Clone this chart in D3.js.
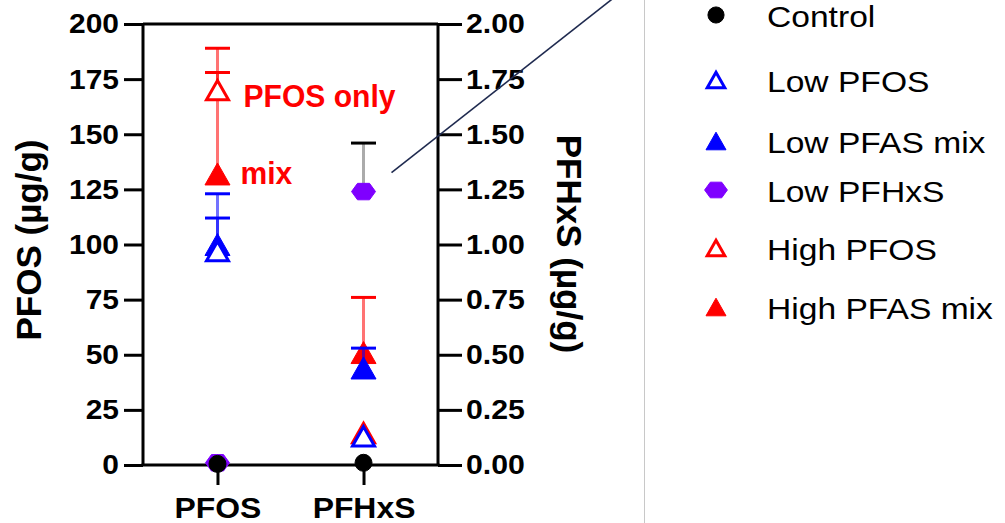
<!DOCTYPE html>
<html>
<head>
<meta charset="utf-8">
<script src="https://cdn.jsdelivr.net/npm/d3@7"></script>
<style>
  body { margin: 0; background: #fff; }
  svg { display: block; font-family: "Liberation Sans", Arial, sans-serif; }
</style>
</head>
<body>
<svg id="chart" width="1005" height="523"></svg>
<script>
// ---- data -------------------------------------------------------------
const categories = ["PFOS", "PFHxS"];
const seriesNames = ["Control", "Low PFOS", "Low PFAS mix", "Low PFHxS", "High PFOS", "High PFAS mix"];

// group means per category: [PFOS on left axis, PFHxS on right axis], µg/g
const controlMean   = [0.5, 0.01];
const lowPfosMean   = [97, 0.13];
const lowMixMean    = [100, 0.44];
const lowPfhxsMean  = [1, 1.24];
const highPfosMean  = [170, 0.145];
const highMixMean   = [132, 0.51];

// upper error (SD) per category; null where no bar is shown
const controlErr   = [null, null];
const lowPfosErr   = [15, null];
const lowMixErr    = [23, 0.09];
const lowPfhxsErr  = [null, 0.22];
const highPfosErr  = [19, null];
const highMixErr   = [46, 0.25];

const leftTicks  = [0, 25, 50, 75, 100, 125, 150, 175, 200];
const rightTicks = [0, 0.25, 0.5, 0.75, 1, 1.25, 1.5, 1.75, 2];

// ---- styles -----------------------------------------------------------
const BLUE = "#0000ff", RED = "#ff0000", PURPLE = "#7f00ff", BLACK = "#000000";
const seriesStyle = {
  "Control":       { shape: "circle",   color: BLACK,  fill: true,  errColor: BLACK },
  "Low PFOS":      { shape: "triangle", color: BLUE,   fill: false, errColor: BLUE },
  "Low PFAS mix":  { shape: "triangle", color: BLUE,   fill: true,  errColor: BLUE },
  "Low PFHxS":     { shape: "hexagon",  color: PURPLE, fill: true,  errColor: "#666666", capColor: BLACK },
  "High PFOS":     { shape: "triangle", color: RED,    fill: false, errColor: RED },
  "High PFAS mix": { shape: "triangle", color: RED,    fill: true,  errColor: RED }
};

const series = [
  { name: "Control",       mean: controlMean,  err: controlErr },
  { name: "Low PFOS",      mean: lowPfosMean,  err: lowPfosErr },
  { name: "Low PFAS mix",  mean: lowMixMean,   err: lowMixErr },
  { name: "Low PFHxS",     mean: lowPfhxsMean, err: lowPfhxsErr },
  { name: "High PFOS",     mean: highPfosMean, err: highPfosErr },
  { name: "High PFAS mix", mean: highMixMean,  err: highMixErr }
];
// painting order (later on top)
const drawOrder = ["High PFAS mix", "High PFOS", "Low PFHxS", "Low PFAS mix", "Low PFOS", "Control"];

// ---- layout -----------------------------------------------------------
const svg = d3.select("#chart");
const plot = { left: 143, right: 438, top: 24, bottom: 465 };

const x = d3.scalePoint().domain(categories).range([plot.left, plot.right]).padding(0.51);
const yLeft  = d3.scaleLinear().domain([0, 200]).range([plot.bottom, plot.top]);
const yRight = d3.scaleLinear().domain([0, 2]).range([plot.bottom, plot.top]);
const yFor = cat => (cat === "PFOS" ? yLeft : yRight);

const AXIS_W = 3;

// marker path generators (centred on 0,0)
function markerPath(shape, s) {
  if (shape === "triangle") {
    const w = 25 * s, h = 22 * s;
    return `M0,${-h / 2}L${w / 2},${h / 2}L${-w / 2},${h / 2}Z`;
  }
  if (shape === "hexagon") {
    const rx = 12 * s, ry = 9.5 * s;
    const pts = d3.range(6).map(i => {
      const a = Math.PI / 3 * i;
      return [rx * Math.cos(a), ry * Math.sin(a)];
    });
    return "M" + pts.join("L") + "Z";
  }
  const r = 8.5 * s;
  return `M${-r},0A${r},${r} 0 1,0 ${r},0A${r},${r} 0 1,0 ${-r},0Z`;
}

function drawMarker(g, st, cx, cy, s) {
  const open = !st.fill;
  g.append("path")
    .attr("transform", `translate(${cx},${cy})`)
    .attr("d", markerPath(st.shape, s * (open ? 0.88 : 1)))
    .attr("fill", open ? "#fff" : st.color)
    .attr("stroke", st.color)
    .attr("stroke-width", open ? 3 : 1)
    .attr("stroke-linejoin", "miter");
}

// helper for horizontally stretched text
function label(g, txt, px, py, opts) {
  const t = g.append("text")
    .attr("transform", `translate(${px},${py}) ${opts.rotate ? `rotate(${opts.rotate})` : ""} scale(${opts.sx || 1},1)`)
    .attr("font-size", opts.size)
    .attr("font-weight", opts.bold ? "bold" : "normal")
    .attr("text-anchor", opts.anchor || "start")
    .attr("fill", opts.color || "#000")
    .text(txt);
  if (opts.baseline) t.attr("dominant-baseline", opts.baseline);
  return t;
}

// ---- frame & axes -----------------------------------------------------
const frame = svg.append("g");
frame.append("line").attr("x1", plot.left).attr("x2", plot.right)
  .attr("y1", plot.top).attr("y2", plot.top)
  .attr("stroke", "#000").attr("stroke-width", AXIS_W);

const leftAxis = svg.append("g").attr("transform", `translate(${plot.left},0)`)
  .call(d3.axisLeft(yLeft).tickValues(leftTicks).tickSize(19).tickPadding(5).tickFormat(d3.format("d")));
const rightAxis = svg.append("g").attr("transform", `translate(${plot.right},0)`)
  .call(d3.axisRight(yRight).tickValues(rightTicks).tickSize(24).tickPadding(4).tickFormat(d3.format(".2f")));
const bottomAxis = svg.append("g").attr("transform", `translate(0,${plot.bottom})`)
  .call(d3.axisBottom(x).tickSize(20).tickPadding(12));

[leftAxis, rightAxis, bottomAxis].forEach(a => {
  a.select(".domain").attr("stroke", "#000").attr("stroke-width", AXIS_W);
  a.selectAll(".tick line").attr("stroke", "#000").attr("stroke-width", AXIS_W);
  a.selectAll("text").attr("fill", "#000").attr("font-weight", "bold")
    .attr("font-family", '"Liberation Sans", Arial, sans-serif');
});
// domain lines run corner to corner, no outer ticks
leftAxis.select(".domain").attr("d", `M0,${plot.top}V${plot.bottom}`);
rightAxis.select(".domain").attr("d", `M0,${plot.top}V${plot.bottom}`);
bottomAxis.select(".domain").attr("d", `M${plot.left - 1.5},0H${plot.right + 1.5}`);

leftAxis.selectAll("text").attr("font-size", 28)
  .attr("transform", "scale(1.07,1)").attr("x", -24 / 1.07);
rightAxis.selectAll("text").attr("font-size", 28)
  .attr("transform", "scale(1.08,1)").attr("x", 28 / 1.08);
bottomAxis.selectAll("text").attr("font-size", 29)
  .attr("transform", "scale(1.1,1)")
  .each(function () { d3.select(this).attr("x", 0); })
  .attr("dy", "0.71em");

// axis titles
label(svg, "PFOS (µg/g)", 41, 240, { size: 35, bold: true, rotate: -90, anchor: "middle", sx: 1 });
label(svg, "PFHxS (µg/g)", 557, 244, { size: 35, bold: true, rotate: 90, anchor: "middle", sx: 1 });

// ---- error bars & markers --------------------------------------------
const marks = svg.append("g");
const byName = Object.fromEntries(series.map(s => [s.name, s]));
drawOrder.forEach(name => {
  const s = byName[name], st = seriesStyle[name];
  const g = marks.append("g");
  categories.forEach((cat, i) => {
    const y = yFor(cat), cx = x(cat);
    if (s.err[i] != null) {
      const y0 = y(s.mean[i]), y1 = y(s.mean[i] + s.err[i]);
      g.append("line").attr("x1", cx).attr("x2", cx).attr("y1", y0).attr("y2", y1)
        .attr("stroke", st.errColor).attr("stroke-width", 3).attr("stroke-opacity", 0.55);
      g.append("line").attr("x1", cx - 12.5).attr("x2", cx + 12.5).attr("y1", y1).attr("y2", y1)
        .attr("stroke", st.capColor || st.errColor).attr("stroke-width", 3);
    }
  });
  categories.forEach((cat, i) => {
    drawMarker(g, st, x(cat), yFor(cat)(s.mean[i]), 1);
  });
});

// ---- annotations ------------------------------------------------------
const annX = x("PFOS") + 26;
label(svg, "PFOS only", annX, yLeft(highPfosMean[0]) + 17, { size: 32, bold: true, color: RED, sx: 0.94 });
label(svg, "mix", annX - 3, yLeft(highMixMean[0]) + 10, { size: 32, bold: true, color: RED, sx: 0.94 });

// pointer line leaving the PFHxS marker towards the upper right
const px0 = x("PFHxS") + 28, py0 = yRight(lowPfhxsMean[1]) - 19;
svg.append("line").attr("x1", px0).attr("y1", py0)
  .attr("x2", px0 + 236).attr("y2", py0 - 236 * 173 / 220)
  .attr("stroke", "#1f2a4f").attr("stroke-width", 1.6);

// divider
svg.append("line").attr("x1", 644.5).attr("x2", 644.5).attr("y1", 0).attr("y2", 523)
  .attr("stroke", "#c8c8c8").attr("stroke-width", 1);

// ---- legend -----------------------------------------------------------
const legendRowY = [15, 80, 141, 190, 248, 307];
const legend = svg.append("g");
seriesNames.forEach((name, i) => {
  const st = seriesStyle[name];
  drawMarker(legend, st, 716, legendRowY[i], st.shape === "triangle" ? 0.8 : 0.95);
  label(legend, name, 767, legendRowY[i] + 12, { size: 30, sx: 1.12 });
});
</script>
</body>
</html>
